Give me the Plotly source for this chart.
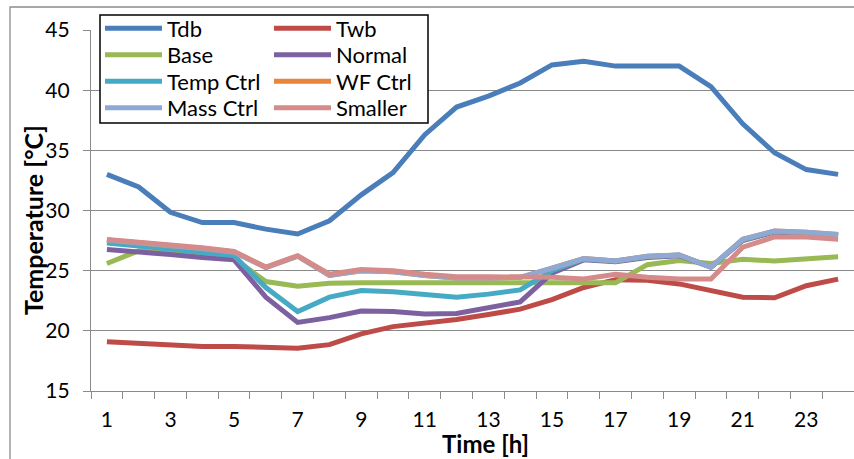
import plotly.graph_objects as go

# Hourly temperatures over one design day
hours = list(range(1, 25))

tdb = [33.0, 31.95, 29.85, 29.0, 29.0, 28.45, 28.05, 29.15, 31.3, 33.15, 36.3, 38.6,
       39.5, 40.6, 42.1, 42.4, 42.0, 42.0, 42.0, 40.3, 37.2, 34.8, 33.4, 33.0]
twb = [19.1, 18.95, 18.8, 18.7, 18.7, 18.6, 18.55, 18.85, 19.75, 20.35, 20.6, 20.95,
       21.35, 21.8, 22.6, 23.6, 24.25, 24.2, 23.9, 23.4, 22.8, 22.75, 23.75, 24.3]
base = [25.6, 26.65, 26.45, 26.15, 26.0, 24.1, 23.7, 23.95, 24.0, 24.0, 24.0, 24.0,
        24.0, 24.0, 24.0, 24.0, 24.0, 25.5, 25.85, 25.6, 25.95, 25.8, 26.0, 26.15]
normal = [26.75, 26.6, 26.35, 26.1, 25.9, 22.8, 20.7, 21.1, 21.65, 21.6, 21.4, 21.45,
          21.95, 22.4, 24.8, 25.9, 25.75, 26.1, 26.25, 25.3, 27.5, 28.2, 28.1, 27.9]
temp_ctrl = [27.3, 27.1, 26.8, 26.5, 26.25, 23.6, 21.6, 22.8, 23.35, 23.25, 23.0, 22.8,
             23.05, 23.4, 25.0, 25.95, 25.8, 26.15, 26.3, 25.3, 27.55, 28.25, 28.15, 27.95]
wf_ctrl = [27.55, 27.35, 27.1, 26.85, 26.55, 25.25, 26.2, 24.6, 25.0, 24.9, 24.6, 24.4,
           24.4, 24.45, 25.2, 26.0, 25.8, 26.2, 26.3, 25.3, 27.6, 28.3, 28.2, 28.0]
mass_ctrl = [27.55, 27.35, 27.1, 26.85, 26.55, 25.25, 26.2, 24.6, 25.0, 24.9, 24.6, 24.4,
             24.4, 24.45, 25.2, 26.0, 25.8, 26.2, 26.3, 25.3, 27.6, 28.3, 28.2, 28.0]
smaller = [27.6, 27.4, 27.15, 26.9, 26.6, 25.3, 26.25, 24.7, 25.1, 25.0, 24.7, 24.5,
           24.5, 24.5, 24.45, 24.3, 24.7, 24.45, 24.3, 24.3, 26.95, 27.8, 27.8, 27.6]

x_tick_labels = [1, 3, 5, 7, 9, 11, 13, 15, 17, 19, 21, 23]
y_ticks = [15, 20, 25, 30, 35, 40, 45]

series_names = ["Tdb", "Twb", "Base", "Normal", "Temp Ctrl", "WF Ctrl", "Mass Ctrl", "Smaller"]
series_values = [tdb, twb, base, normal, temp_ctrl, wf_ctrl, mass_ctrl, smaller]
series_colors = ["#4A7EBB", "#BE4B48", "#98B954", "#7D60A0",
                 "#46AAC5", "#E8853D", "#8EA9D3", "#D48B8A"]

x_title = "Time [h]"
y_title = "Temperature [°C]"

FONT = "Lato, Carlito, sans-serif"
GRID = "#8a8a8a"

# plot-area geometry in pixels (used to place the legend grid in paper units)
W, H = 854, 459
ML, MR, MT, MB = 91, 0, 30, 68
PW, PH = W - ML - MR, H - MT - MB


def px_to_paper_x(px):
    return (px - ML) / PW


def px_to_paper_y(py):
    return (H - MB - py) / PH


fig = go.Figure()
legends = {}
for i, (name, vals, color) in enumerate(zip(series_names, series_values, series_colors)):
    key = "legend" if i == 0 else f"legend{i + 1}"
    fig.add_trace(go.Scatter(
        x=hours, y=vals, name=name, mode="lines",
        line=dict(color=color, width=5),
        legend=key, showlegend=True,
    ))
    row, col = divmod(i, 2)
    legends[key] = dict(
        x=px_to_paper_x(100 + col * 169),
        y=px_to_paper_y(28.5 + row * 26.5),
        xanchor="left", yanchor="middle",
        font=dict(family=FONT, size=22, color="black"),
        bgcolor="rgba(0,0,0,0)", borderwidth=0,
        itemwidth=57, visible=True,
    )

fig.update_layout(
    width=W, height=H,
    margin=dict(l=ML, r=MR, t=MT, b=MB),
    paper_bgcolor="white", plot_bgcolor="white",
    showlegend=True,
    font=dict(family=FONT, size=21, color="black"),
    xaxis=dict(
        range=[0.5, 24.5],
        tickmode="array", tickvals=x_tick_labels,
        ticktext=[str(v) for v in x_tick_labels],
        ticks="outside", ticklen=10, tickcolor="rgba(0,0,0,0)",
        minor=dict(tickvals=[h - 0.5 for h in hours] + [24.5],
                   ticks="outside", ticklen=7, tickcolor=GRID, tickwidth=1.3),
        showline=True, linecolor=GRID, linewidth=1.3,
        showgrid=False, zeroline=False,
        tickfont=dict(family=FONT, size=21, color="black"),
    ),
    yaxis=dict(
        range=[15, 45],
        tickmode="array", tickvals=y_ticks,
        ticks="outside", ticklen=7, tickcolor=GRID, tickwidth=1.3,
        showline=True, linecolor=GRID, linewidth=1.3,
        showgrid=True, gridcolor=GRID, gridwidth=1.3,
        zeroline=False,
        tickfont=dict(family=FONT, size=21, color="black"),
        ticklabelstandoff=9,
    ),
    annotations=[
        dict(text=f"<b>{x_title}</b>", xref="paper", yref="paper",
             x=px_to_paper_x(485), y=px_to_paper_y(443),
             xanchor="center", yanchor="middle", showarrow=False,
             font=dict(family=FONT, size=24, color="black")),
        dict(text=f"<b>{y_title}</b>", xref="paper", yref="paper",
             x=px_to_paper_x(33), y=px_to_paper_y(220), textangle=-90,
             xanchor="center", yanchor="middle", showarrow=False,
             font=dict(family=FONT, size=25, color="black")),
    ],
    shapes=[
        # chart frame
        dict(type="rect", xref="paper", yref="paper",
             x0=px_to_paper_x(10), x1=1.2, y0=-0.5, y1=px_to_paper_y(7),
             line=dict(color="#8c8c8c", width=1.3), fillcolor="rgba(0,0,0,0)",
             layer="below"),
        # legend box
        dict(type="rect", xref="paper", yref="paper",
             x0=px_to_paper_x(100), x1=px_to_paper_x(428),
             y0=px_to_paper_y(123), y1=px_to_paper_y(15),
             line=dict(color="black", width=1.5), fillcolor="white",
             layer="above"),
    ],
    **legends,
)

fig.write_html("out.html")
